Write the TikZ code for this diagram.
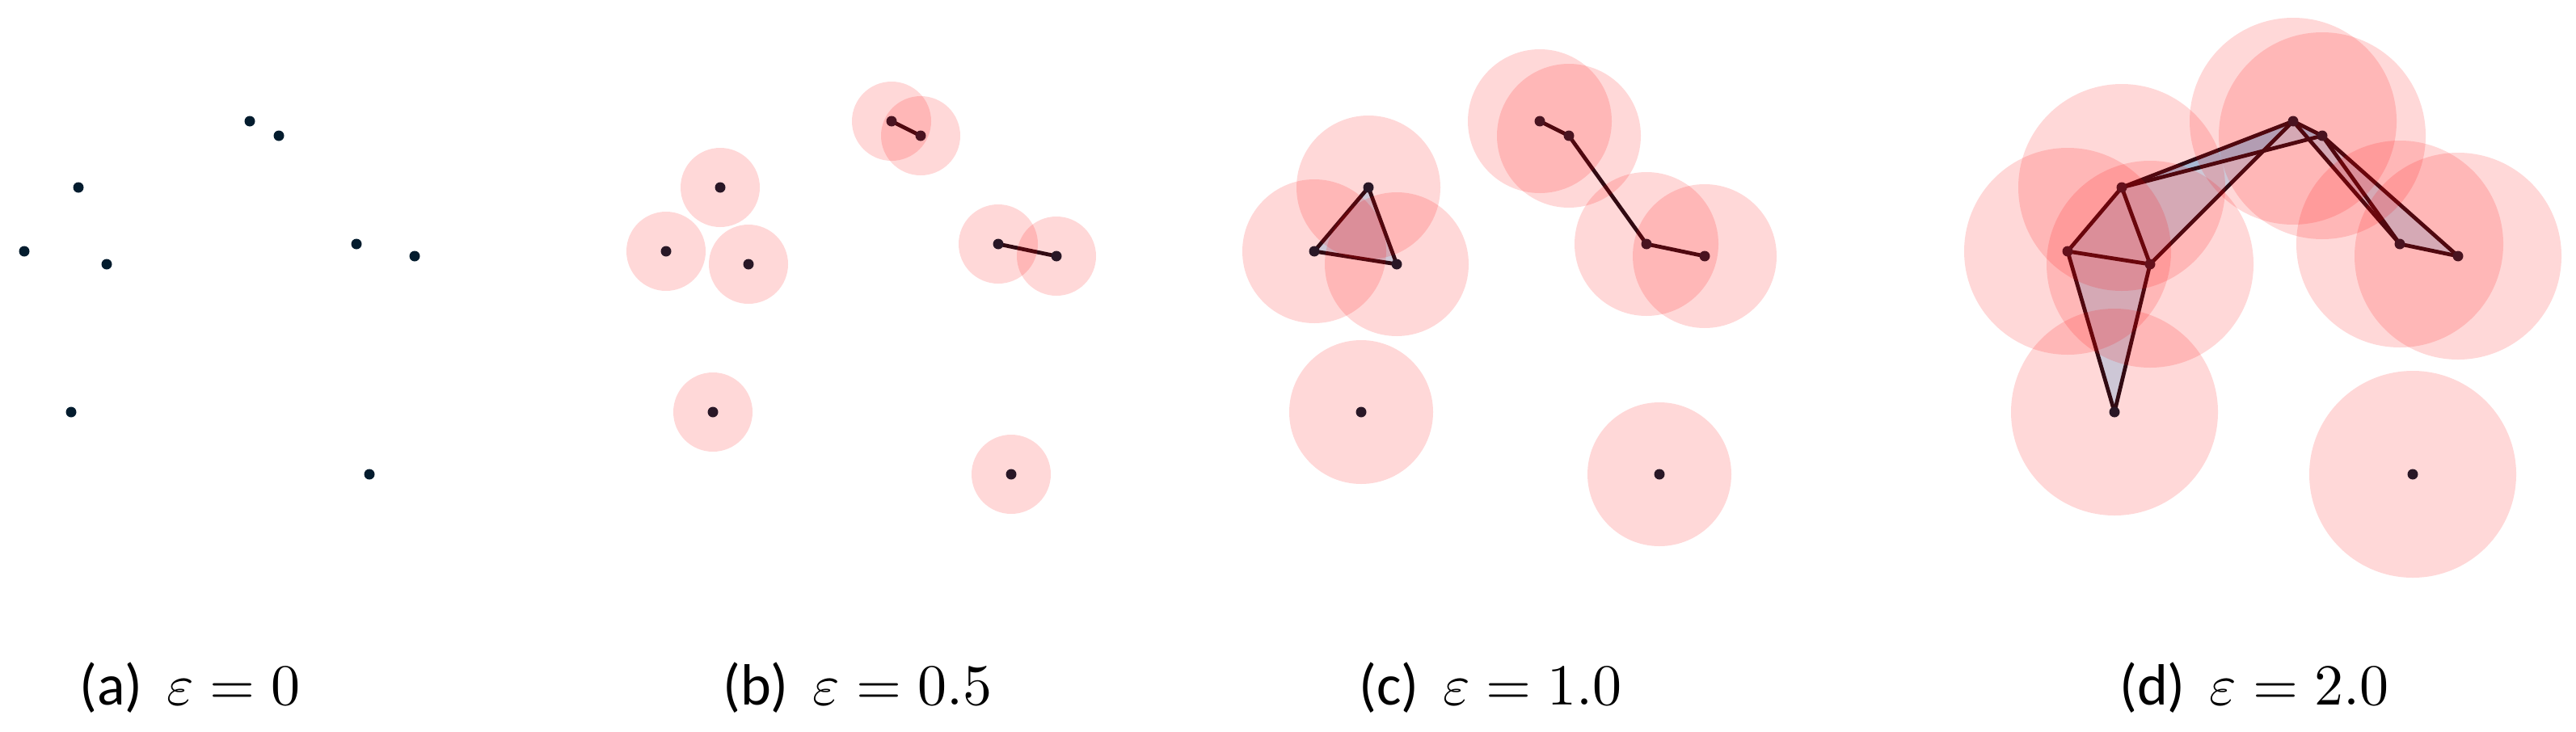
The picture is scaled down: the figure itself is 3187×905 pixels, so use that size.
\documentclass[tikz,border=0pt]{standalone}
\usepackage{fontspec}
\usepackage{unicode-math}
\setmainfont{Carlito}
\setmathfont{Latin Modern Math}
\definecolor{dotc}{RGB}{3,28,46}
\definecolor{edgec}{RGB}{12,12,22}
\definecolor{tric}{RGB}{0,170,245}
\begin{document}
\begin{tikzpicture}[x=1pt,y=-1pt,
  dotnode/.style={circle,fill=dotc,inner sep=0pt,minimum size=13pt},
  ball/.style={fill=red,fill opacity=0.153},
  edgeline/.style={draw=edgec,line width=4.8pt,line cap=round,line join=round},
  tri/.style={fill=tric,fill opacity=0.23},
  lab/.style={anchor=base west,inner sep=0pt,font=\fontsize{72}{80}\selectfont}]
\useasboundingbox (0,0) rectangle (3187,905);
% point coordinates for the four panels
\foreach \pn/\dx in {a/0,b/794,c/1596,d/2528} {
  \foreach \i/\x/\y in {1/309/150,2/345/168,3/97/232,4/30/311,5/132/327,6/441/302,7/513/317,8/88/510,9/457/587}
    \coordinate (\pn\i) at (\x+\dx,\y);
}
% triangles (2-simplices)
\fill[tri] (c3) -- (c4) -- (c5) -- cycle;
\fill[tri] (d3) -- (d4) -- (d5) -- cycle;
\fill[tri] (d4) -- (d5) -- (d8) -- cycle;
\fill[tri] (d1) -- (d2) -- (d3) -- cycle;
\fill[tri] (d1) -- (d3) -- (d5) -- cycle;
\fill[tri] (d1) -- (d2) -- (d6) -- cycle;
\fill[tri] (d2) -- (d6) -- (d7) -- cycle;
% edges (1-simplices)
\draw[edgeline] (b1) -- (b2);
\draw[edgeline] (b6) -- (b7);
\draw[edgeline] (c1) -- (c2);
\draw[edgeline] (c2) -- (c6);
\draw[edgeline] (c6) -- (c7);
\draw[edgeline] (c3) -- (c4);
\draw[edgeline] (c3) -- (c5);
\draw[edgeline] (c4) -- (c5);
\foreach \u/\v in {1/2,1/3,2/3,1/5,3/4,3/5,4/5,4/8,5/8,1/6,2/6,2/7,6/7}
  \draw[edgeline] (d\u) -- (d\v);
% vertices
\foreach \pn in {a,b,c,d}
  \foreach \i in {1,...,9}
    \node[dotnode] (v\pn\i) at (\pn\i) {};
% balls
\foreach \i in {1,...,9} {
  \fill[ball] (b\i) circle[radius=49pt];
  \fill[ball] (c\i) circle[radius=89pt];
  \fill[ball] (d\i) circle[radius=128pt];
}
% labels
\node[lab] (la) at (98,872) {(a)\hspace{30pt}$\varepsilon = 0$};
\node[lab] (lb) at (894,872) {(b)\hspace{30pt}$\varepsilon = 0.5$};
\node[lab] (lc) at (1681,872) {(c)\hspace{30pt}$\varepsilon = 1.0$};
\node[lab] (ld) at (2622,872) {(d)\hspace{30pt}$\varepsilon = 2.0$};
\end{tikzpicture}
\end{document}
